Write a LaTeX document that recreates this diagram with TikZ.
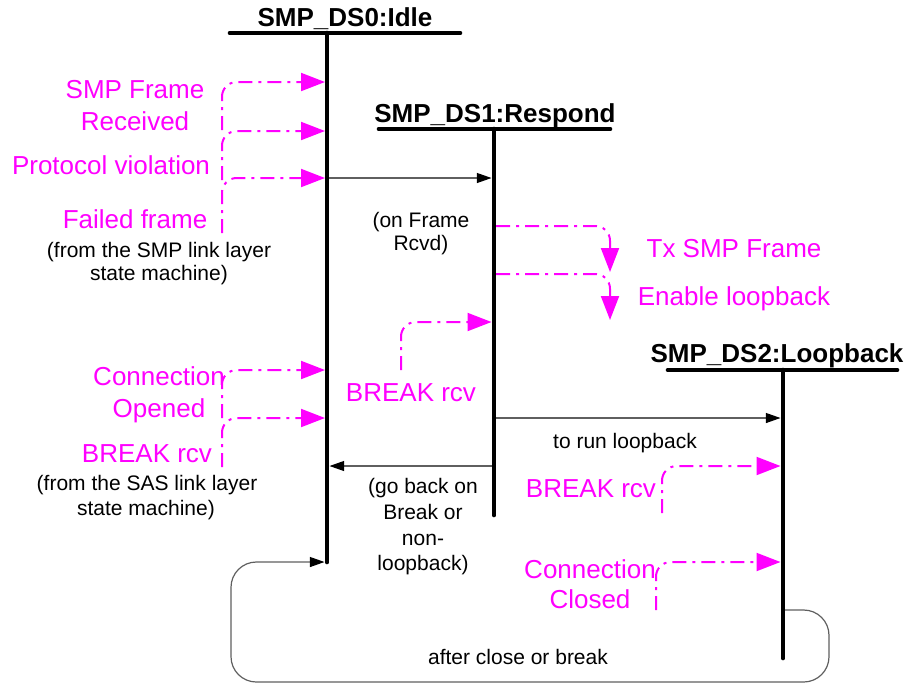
\documentclass[tikz,border=0pt]{standalone}
\usepackage{fontspec}
\setmainfont{Liberation Sans}
\usetikzlibrary{arrows.meta}
\definecolor{mag}{RGB}{255,0,255}
\definecolor{conn}{RGB}{95,95,95}
\begin{document}
\begin{tikzpicture}[x=0.75pt,y=-0.75pt,
  stateline/.style={line width=3.5pt, line cap=round},
  title/.style={font=\bfseries\fontsize{19.5}{23}\selectfont, anchor=base, inner sep=0pt},
  evt/.style={text=mag, font=\fontsize{19.5}{24}\selectfont, anchor=base, inner sep=0pt},
  note/.style={font=\fontsize{15.75}{19}\selectfont, anchor=base, inner sep=0pt},
  trans/.style={draw=conn, line width=0.9pt, -{Triangle[length=11pt,width=7.5pt,color=black,fill=black]}},
  sig/.style={draw=mag, line width=1.5pt, dash pattern=on 10.5pt off 4.5pt on 2.25pt off 4.5pt, rounded corners=11pt, -{Triangle[length=18pt,width=13.5pt]}},
]
\useasboundingbox (0,0) rectangle (917,683);

% ---------- states ----------
\node[title] (t0) at (345,26) {SMP\_DS0:Idle};
\node[title] (t1) at (495,122) {SMP\_DS1:Respond};
\node[title] (t2) at (777,362) {SMP\_DS2:Loopback};

\coordinate (b0l) at (230,33);  \coordinate (b0r) at (460,33);
\coordinate (b1l) at (379,129); \coordinate (b1r) at (610,129);
\coordinate (b2l) at (668,370); \coordinate (b2r) at (897,370);
\coordinate (s0t) at (327,33);  \coordinate (s0b) at (327,562);
\coordinate (s1t) at (494,129); \coordinate (s1b) at (494,515);
\coordinate (s2t) at (783,370); \coordinate (s2b) at (783,658);

\draw[stateline] (b0l) -- (b0r);
\draw[stateline] (b1l) -- (b1r);
\draw[stateline] (b2l) -- (b2r);
\draw[stateline] (s0t) -- (s0b);
\draw[stateline] (s1t) -- (s1b);
\draw[stateline] (s2t) -- (s2b);

% ---------- transitions ----------
\coordinate (a01s) at (329,178);   \coordinate (a01e) at (491.5,178);
\coordinate (a12s) at (496,418);   \coordinate (a12e) at (780.5,418);
\coordinate (a10s) at (492,466);   \coordinate (a10e) at (329.5,466);
\coordinate (l2s) at (785,610);    \coordinate (l0e) at (324.5,562);

\draw[trans] (a01s) -- (a01e);
\draw[trans] (a12s) -- (a12e);
\draw[trans] (a10s) -- (a10e);
\draw[trans, rounded corners=19pt] (l2s) -- (829,610) -- (829,682) -- (231,682) -- (231,562) -- (l0e);

\node[note] (n1a) at (421,227) {(on Frame};
\node[note] (n1b) at (421,250) {Rcvd)};
\node[note] (n2) at (625,448) {to run loopback};
\node[note] (n3a) at (423,493) {(go back on};
\node[note] (n3b) at (423,519) {Break or};
\node[note] (n3c) at (423,545) {non-};
\node[note] (n3d) at (423,570) {loopback)};
\node[note] (n4) at (518,664) {after close or break};

% ---------- events into DS0 (upper) ----------
\node[evt] (e1a) at (135,98) {SMP Frame};
\node[evt] (e1b) at (135,130) {Received};
\node[evt] (e2) at (111,174) {Protocol violation};
\node[evt] (e3) at (135,228) {Failed frame};
\node[note] (f1a) at (159,257) {(from the SMP link layer};
\node[note] (f1b) at (159,280) {state machine)};

\coordinate (g1s) at (222,130); \coordinate (g1e) at (325,82);
\coordinate (g2s) at (222,180); \coordinate (g2e) at (325,131);
\coordinate (g3s) at (222,233); \coordinate (g3e) at (325,178);
\draw[sig] (g1s) |- (g1e);
\draw[sig] (g2s) |- (g2e);
\draw[sig] (g3s) |- (g3e);

% ---------- events into DS0 (lower) ----------
\node[evt] (e4a) at (159,385) {Connection};
\node[evt] (e4b) at (159,417) {Opened};
\node[evt] (e5) at (147,462) {BREAK rcv};
\node[note] (f2a) at (147,490) {(from the SAS link layer};
\node[note] (f2b) at (146,515) {state machine)};

\coordinate (g4s) at (222,418); \coordinate (g4e) at (325,370);
\coordinate (g5s) at (222,467); \coordinate (g5e) at (325,418);
\draw[sig] (g4s) |- (g4e);
\draw[sig] (g5s) |- (g5e);

% ---------- DS1 events ----------
\node[evt] (e6) at (411,401) {BREAK rcv};
\coordinate (g6s) at (401,370); \coordinate (g6e) at (491.5,322);
\draw[sig] (g6s) |- (g6e);

\node[evt] (o1) at (734,257) {Tx SMP Frame};
\node[evt] (o2) at (734,305) {Enable loopback};
\coordinate (h1s) at (496,226); \coordinate (h1e) at (610,272);
\coordinate (h2s) at (496,274); \coordinate (h2e) at (610,320);
\draw[sig] (h1s) -| (h1e);
\draw[sig] (h2s) -| (h2e);

% ---------- DS2 events ----------
\node[evt] (e7) at (591,497) {BREAK rcv};
\node[evt] (e8a) at (590,578) {Connection};
\node[evt] (e8b) at (590,608) {Closed};
\coordinate (g7s) at (662,513); \coordinate (g7e) at (780.5,466);
\coordinate (g8s) at (656,610); \coordinate (g8e) at (780.5,562);
\draw[sig] (g7s) |- (g7e);
\draw[sig] (g8s) |- (g8e);
\end{tikzpicture}
\end{document}
